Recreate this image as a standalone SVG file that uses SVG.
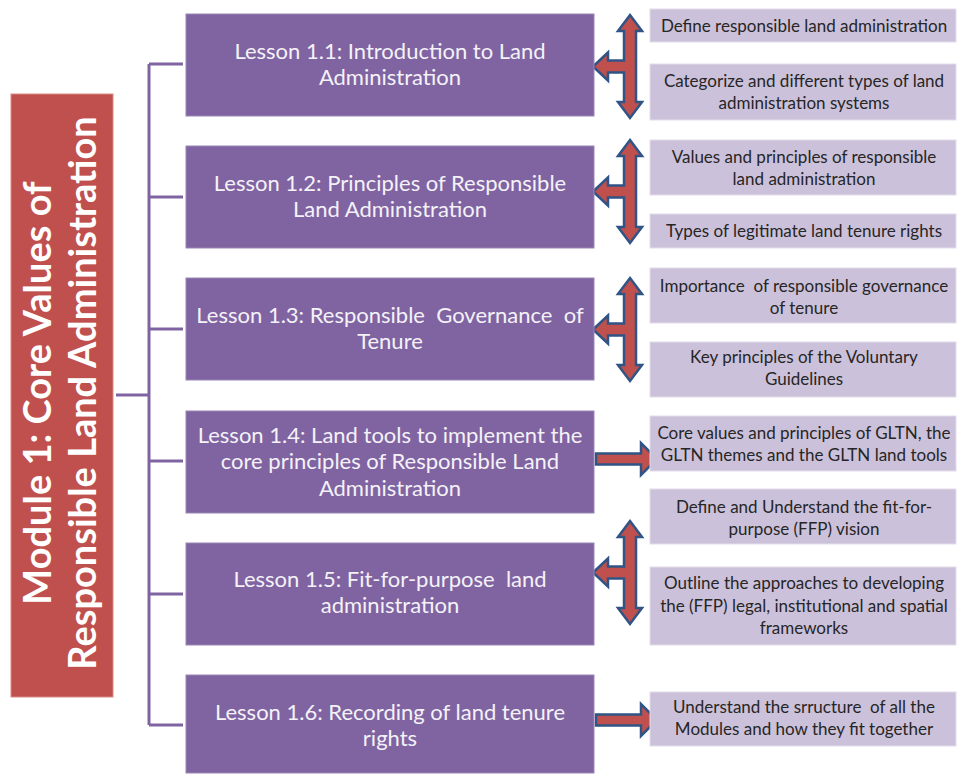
<svg xmlns="http://www.w3.org/2000/svg" xmlns:xlink="http://www.w3.org/1999/xlink" width="957" height="774" viewBox="0 0 957 774">
<style>
.lesson{fill:#8064A2;stroke:#9a86b6;stroke-width:1}
.ltxt{font-family:Lato,"Liberation Sans",sans-serif;font-size:22px;fill:#F4F2F7;text-anchor:middle}
.obj{fill:#CCC1DA;stroke:#e3dcea;stroke-width:1}
.otxt{font-family:Lato,"Liberation Sans",sans-serif;font-size:17px;fill:#262626;text-anchor:middle}
.mod{fill:#C0504D;stroke:#d98a88;stroke-width:1}
.mtxt{font-family:Lato,"Liberation Sans",sans-serif;font-size:38px;font-weight:bold;fill:#FFFFFF;text-anchor:middle}
.br{stroke:#8064A2;stroke-width:3;fill:none}
.arr{fill:#C0504D;stroke:#2F5485;stroke-width:2.5;stroke-linejoin:miter}
</style>
<defs>
<path id="tarrow" class="arr" d="M0,0 L12,16 L6,16 L6,87 L12,87 L0,103 L-12,87 L-6,87 L-6,57.5 L-22,57.5 L-22,65.5 L-37,51.5 L-22,37.5 L-22,45.5 L-6,45.5 L-6,16 L-12,16 Z"/>
<path id="rarrow" class="arr" d="M0,-5.5 L45,-5.5 L45,-16 L61,0 L45,16 L45,5.5 L0,5.5 Z"/>
</defs>

<g id="module">
<rect class="mod" x="11" y="94" width="102" height="603"/>
<text class="mtxt" transform="translate(51,393) rotate(-90)">Module 1: Core Values of</text>
<text class="mtxt" transform="translate(96,393) rotate(-90)">Responsible Land Administration</text>
</g>

<g id="connectors">
<path class="br" d="M116,395 H149 M149,64 V725 M149,64 H183 M149,197 H183 M149,329 H183 M149,461 H183 M149,594 H183 M149,725 H183"/>
<use xlink:href="#tarrow" x="630" y="15"/>
<use xlink:href="#tarrow" x="630" y="140"/>
<use xlink:href="#tarrow" x="630" y="278"/>
<use xlink:href="#rarrow" x="596" y="459"/>
<use xlink:href="#tarrow" x="630" y="521"/>
<use xlink:href="#rarrow" x="596" y="720"/>
</g>

<g id="lesson1">
<rect class="lesson" x="186" y="14" width="408" height="102"/>
<text class="ltxt" x="390" y="59">Lesson 1.1: Introduction to Land</text>
<text class="ltxt" x="390" y="85">Administration</text>
</g>
<g id="lesson2">
<rect class="lesson" x="186" y="146" width="408" height="102"/>
<text class="ltxt" x="390" y="191">Lesson 1.2: Principles of Responsible</text>
<text class="ltxt" x="390" y="217">Land Administration</text>
</g>
<g id="lesson3">
<rect class="lesson" x="186" y="278" width="408" height="102"/>
<text class="ltxt" x="390" y="323" xml:space="preserve">Lesson 1.3: Responsible  Governance  of</text>
<text class="ltxt" x="390" y="349">Tenure</text>
</g>
<g id="lesson4">
<rect class="lesson" x="186" y="411" width="408" height="102"/>
<text class="ltxt" x="390" y="443">Lesson 1.4: Land tools to implement the</text>
<text class="ltxt" x="390" y="469">core principles of Responsible Land</text>
<text class="ltxt" x="390" y="496">Administration</text>
</g>
<g id="lesson5">
<rect class="lesson" x="186" y="543" width="408" height="102"/>
<text class="ltxt" x="390" y="587" xml:space="preserve">Lesson 1.5: Fit-for-purpose  land</text>
<text class="ltxt" x="390" y="613">administration</text>
</g>
<g id="lesson6">
<rect class="lesson" x="186" y="675" width="408" height="98"/>
<text class="ltxt" x="390" y="720">Lesson 1.6: Recording of land tenure</text>
<text class="ltxt" x="390" y="746">rights</text>
</g>

<g id="obj1">
<rect class="obj" x="650" y="9" width="306" height="33"/>
<text class="otxt" x="804" y="32">Define responsible land administration</text>
</g>
<g id="obj2">
<rect class="obj" x="650" y="64" width="306" height="56"/>
<text class="otxt" x="804" y="87">Categorize and different types of land</text>
<text class="otxt" x="804" y="109">administration systems</text>
</g>
<g id="obj3">
<rect class="obj" x="650" y="140" width="306" height="55"/>
<text class="otxt" x="804" y="163">Values and principles of responsible</text>
<text class="otxt" x="804" y="185">land administration</text>
</g>
<g id="obj4">
<rect class="obj" x="650" y="214" width="306" height="34"/>
<text class="otxt" x="804" y="237">Types of legitimate land tenure rights</text>
</g>
<g id="obj5">
<rect class="obj" x="650" y="268" width="306" height="55"/>
<text class="otxt" x="804" y="292" xml:space="preserve">Importance  of responsible governance</text>
<text class="otxt" x="804" y="314">of tenure</text>
</g>
<g id="obj6">
<rect class="obj" x="650" y="342" width="306" height="55"/>
<text class="otxt" x="804" y="363">Key principles of the Voluntary</text>
<text class="otxt" x="804" y="385">Guidelines</text>
</g>
<g id="obj7">
<rect class="obj" x="650" y="416" width="306" height="55"/>
<text class="otxt" x="804" y="439">Core values and principles of GLTN, the</text>
<text class="otxt" x="804" y="461">GLTN themes and the GLTN land tools</text>
</g>
<g id="obj8">
<rect class="obj" x="650" y="489" width="306" height="55"/>
<text class="otxt" x="804" y="513">Define and Understand the fit-for-</text>
<text class="otxt" x="804" y="535">purpose (FFP) vision</text>
</g>
<g id="obj9">
<rect class="obj" x="650" y="567" width="306" height="78"/>
<text class="otxt" x="804" y="589">Outline the approaches to developing</text>
<text class="otxt" x="804" y="612">the (FFP) legal, institutional and spatial</text>
<text class="otxt" x="804" y="634">frameworks</text>
</g>
<g id="obj10">
<rect class="obj" x="650" y="692" width="306" height="54"/>
<text class="otxt" x="804" y="713" xml:space="preserve">Understand the srructure  of all the</text>
<text class="otxt" x="804" y="735">Modules and how they fit together</text>
</g>
</svg>
